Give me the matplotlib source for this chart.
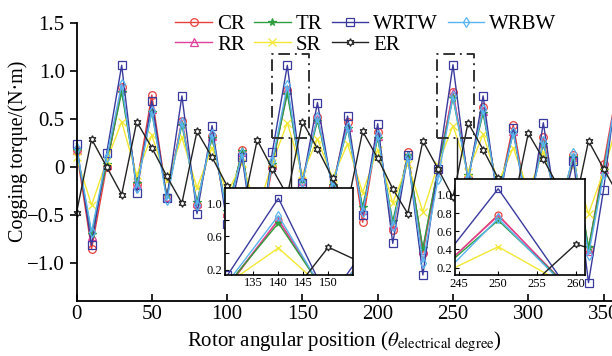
import matplotlib
matplotlib.use("Agg")
import matplotlib.pyplot as plt

# data (every 10 electrical degrees)
angle = list(range(0, 370, 10))

cr = [0.17, -0.86, 0.00, 0.83, -0.18, 0.75, -0.32, 0.48, -0.40, 0.32,
      -0.50, 0.17, -0.88, 0.00, 0.80, -0.15, 0.52, -0.20, 0.47, -0.58,
      0.36, -0.66, 0.15, -0.90, -0.03, 0.78, -0.12, 0.62, -0.32, 0.44,
      -0.45, 0.31, -0.52, 0.12, -0.86, 0.03, 0.90]
rr = [0.18, -0.72, 0.02, 0.82, -0.18, 0.60, -0.32, 0.48, -0.38, 0.32,
      -0.48, 0.15, -0.82, 0.02, 0.80, -0.15, 0.50, -0.20, 0.42, -0.45,
      0.32, -0.60, 0.12, -0.87, -0.02, 0.77, -0.10, 0.58, -0.30, 0.37,
      -0.42, 0.25, -0.50, 0.10, -0.88, -0.02, 0.88]
tr = [0.17, -0.70, 0.03, 0.78, -0.17, 0.57, -0.30, 0.44, -0.37, 0.30,
      -0.46, 0.16, -0.80, 0.03, 0.76, -0.14, 0.48, -0.19, 0.40, -0.42,
      0.30, -0.57, 0.12, -0.85, -0.02, 0.72, -0.09, 0.56, -0.28, 0.35,
      -0.40, 0.24, -0.48, 0.10, -0.84, -0.03, 0.84]
sr = [0.10, -0.40, 0.06, 0.47, -0.09, 0.33, -0.15, 0.31, -0.22, 0.20,
      -0.28, 0.04, -0.47, 0.04, 0.46, -0.08, 0.29, -0.12, 0.24, -0.27,
      0.18, -0.38, 0.03, -0.47, 0.02, 0.43, -0.05, 0.34, -0.17, 0.20,
      -0.25, 0.15, -0.30, 0.01, -0.49, -0.05, 0.50]
wrtw = [0.24, -0.82, 0.14, 1.06, -0.27, 0.69, -0.33, 0.74, -0.49, 0.43,
        -0.60, 0.10, -1.00, 0.15, 1.06, -0.17, 0.67, -0.25, 0.53, -0.50,
        0.45, -0.80, 0.12, -1.13, -0.02, 1.066, -0.16, 0.74, -0.40, 0.40,
        -0.55, 0.46, -0.60, 0.06, -1.21, -0.24, 1.00]
wrbw = [0.20, -0.68, 0.10, 0.86, -0.22, 0.58, -0.35, 0.47, -0.40, 0.34,
        -0.50, 0.14, -0.90, 0.06, 0.85, -0.16, 0.52, -0.21, 0.42, -0.47,
        0.33, -0.62, 0.10, -1.00, -0.13, 0.74, -0.12, 0.60, -0.33, 0.36,
        -0.46, 0.27, -0.52, 0.14, -0.92, -0.08, 0.92]
er = [-0.48, 0.29, 0.00, -0.29, 0.47, 0.20, -0.10, -0.38, 0.37, 0.10,
      -0.20, -0.47, 0.28, -0.02, -0.30, 0.47, 0.19, -0.12, -0.40, 0.37,
      0.09, -0.23, -0.49, 0.27, -0.02, -0.32, 0.46, 0.18, -0.12, -0.41,
      0.35, 0.08, -0.21, -0.48, 0.27, -0.02, -0.30]

series = [
    ("CR", cr, "#e8403c", "o"),
    ("RR", rr, "#e0409a", "^"),
    ("TR", tr, "#2e9e3e", "*"),
    ("SR", sr, "#f2e833", "x"),
    ("WRTW", wrtw, "#3a3a9e", "s"),
    ("WRBW", wrbw, "#58b4f0", "d"),
    ("ER", er, "#222222", (6, 1, 0)),
]

plt.rcParams["font.family"] = ["Liberation Serif", "DejaVu Serif"]
plt.rcParams["mathtext.fontset"] = "stix"


def draw(ax, ms, clip):
    handles = {}
    for name, vals, col, mk in series:
        face = "white" if name == "ER" else "none"
        if mk in ("*", "x"):
            face = col
        ln, = ax.plot(angle, vals, color=col, lw=1.0, marker=mk, ms=ms,
                      mfc=face, mec=col, mew=0.9, clip_on=clip, label=name)
        handles[name] = ln
    return handles


fig = plt.figure(figsize=(6.12, 3.56), dpi=100)
ax = fig.add_axes([0.125, 0.155, 0.875, 0.78])
h = draw(ax, 5.5, False)
ax.set_xlim(0, 355.6)
ax.set_ylim(-1.4, 1.5)
ax.set_xticks(range(0, 351, 50))
ax.set_yticks([-1.0, -0.5, 0, 0.5, 1.0, 1.5])
ax.set_yticklabels(["\u22121.0", "\u22120.5", "0", "0.5", "1.0", "1.5"])
ax.spines["top"].set_visible(False)
ax.spines["right"].set_visible(False)
ax.spines["left"].set_linewidth(1.3)
ax.spines["bottom"].set_linewidth(1.3)
ax.tick_params(axis="x", direction="in", length=5, width=1.2, labelsize=15, pad=3)
ax.tick_params(axis="y", direction="out", length=5, width=1.2, labelsize=15)
ax.set_xlabel(r"Rotor angular position ($\theta_{\rm electrical\ degree}$)", fontsize=15, labelpad=4)
ax.set_ylabel("Cogging torque/(N\u00b7m)", fontsize=14.5)
ax.yaxis.set_label_coords(-0.09, 0.54)

order = ["CR", "RR", "TR", "SR", "WRTW", "ER", "WRBW"]
fig.legend([h[n] for n in order], order, ncol=4, loc="upper left",
           bbox_to_anchor=(167 / 612, 1 - 6 / 356), frameon=False,
           fontsize=15, handlelength=1.75, handletextpad=0.25,
           columnspacing=0.45, labelspacing=0.05, borderaxespad=0)

# zoom boxes with dash-dot outline and connector lines
box = dict(color="#333333", lw=1.4, ls=(0, (6, 2.5, 1, 2.5)), clip_on=False)
for x0, x1, xc, yc in [(129.5, 154.6, 142.4, -0.23), (239.2, 263.9, 252.4, -0.14)]:
    ax.plot([x0, x1, x1, x0, x0], [0.3, 0.3, 1.18, 1.18, 0.3], **box)
    ax.plot([xc, xc], [0.3, yc], color="#222222", lw=1.0)

# inset 1
ins1 = fig.add_axes([225 / 612, 1 - 274.5 / 356, 128.3 / 612, 86.2 / 356])
draw(ins1, 5, True)
ins1.set_xlim(129.3, 155)
ins1.set_ylim(0.14, 1.18)
ins1.set_xticks([135, 140, 145, 150])
ins1.set_yticks([0.2, 0.4, 0.6, 0.8, 1.0])
ins1.set_yticklabels(["0.2", "", "0.6", "", "1.0"])

# inset 2
ins2 = fig.add_axes([455 / 612, 1 - 275 / 356, 130 / 612, 95.7 / 356])
draw(ins2, 5, True)
ins2.set_xlim(244.45, 261.15)
ins2.set_ylim(0.12, 1.17)
ins2.set_xticks([245, 250, 255, 260])
ins2.set_yticks([0.2, 0.4, 0.6, 0.8, 1.0])
ins2.set_yticklabels(["0.2", "0.4", "0.6", "0.8", "1.0"])

for a in (ins1, ins2):
    a.set_facecolor("white")
    for s in a.spines.values():
        s.set_linewidth(1.2)
    a.tick_params(direction="in", length=3, labelsize=9, pad=2)

fig.savefig("out.png", dpi=100)
